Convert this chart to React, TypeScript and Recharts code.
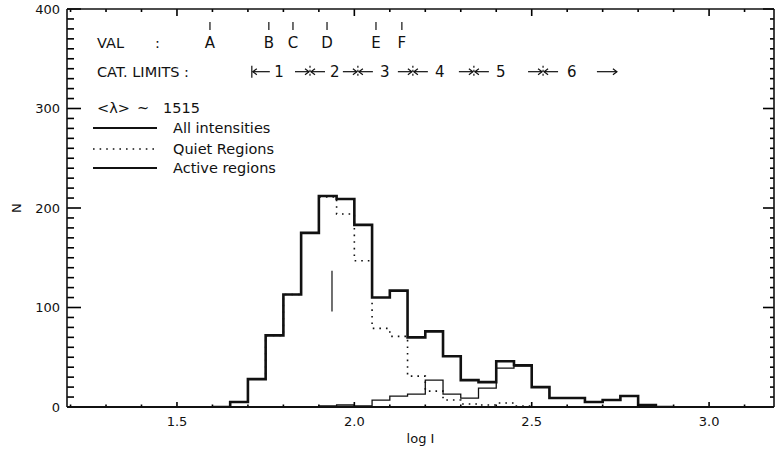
import {
  ComposedChart,
  Line,
  ReferenceLine,
  Scatter,
  XAxis,
  YAxis,
} from 'recharts';

// histogram bins (left edge, log I) and counts
const binStarts = [
  1.6, 1.65, 1.7, 1.75, 1.8, 1.85, 1.9, 1.95, 2.0, 2.05, 2.1, 2.15, 2.2, 2.25,
  2.3, 2.35, 2.4, 2.45, 2.5, 2.55, 2.6, 2.65, 2.7, 2.75, 2.8, 2.85, 2.9,
];
const allCounts = [
  0, 5, 28, 72, 113, 175, 212, 209, 183, 110, 117, 70, 76, 51, 27, 25, 46, 42,
  20, 9, 9, 5, 7, 11, 2, 0, 0,
];
const quietCounts = [
  0, 5, 28, 72, 113, 175, 211, 194, 147, 79, 71, 31, 16, 7, 3, 2, 4, 1, 0, 0,
  0, 0, 0, 0, 0, 0, 0,
];
const activeCounts = [
  0, 0, 0, 0, 0, 0, 1, 2, 1, 7, 11, 13, 27, 13, 9, 19, 39, 41, 20, 9, 9, 5, 7,
  11, 2, 0, 0,
];

const seriesLabels = ['All intensities', 'Quiet Regions', 'Active regions'];

// axes
const xTicks = [
  1.2, 1.3, 1.4, 1.5, 1.6, 1.7, 1.8, 1.9, 2.0, 2.1, 2.2, 2.3, 2.4, 2.5, 2.6,
  2.7, 2.8, 2.9, 3.0, 3.1,
];
const xLabels = [1.5, 2.0, 2.5, 3.0];
const yTicks = [
  0, 10, 20, 30, 40, 50, 60, 70, 80, 90, 100, 110, 120, 130, 140, 150, 160,
  170, 180, 190, 200, 210, 220, 230, 240, 250, 260, 270, 280, 290, 300, 310,
  320, 330, 340, 350, 360, 370, 380, 390, 400,
];
const yLabels = [0, 100, 200, 300, 400];

// VAL markers and category limits along the top
const valNames = ['A', 'B', 'C', 'D', 'E', 'F'];
const valPositions = [1.593, 1.759, 1.827, 1.923, 2.061, 2.134];
const catNames = ['1', '2', '3', '4', '5', '6'];
const catNamePositions = [1.788, 1.945, 2.086, 2.241, 2.413, 2.613];
const catLimits = [1.875, 2.01, 2.165, 2.337, 2.532];
const catStart = 1.711;
const catEnd = 2.712;

// mean marker
const meanLogI = 1.937;
const meanRange = [96, 137];

const VAL_ROW = 383;
const CAT_ROW = 337;

const INK = '#111';
const FONT = '"DejaVu Sans", sans-serif';
const X_DOMAIN = [1.19, 3.183];
const Y_DOMAIN = [0, 400];

const W = 775;
const H = 449;
const LEFT_W = 67;
const BOTTOM_H = 42;
const TOP = 9;
// pixels per data unit, to turn tick lengths (px) into segment ends
const PX_X = (W - LEFT_W - 1) / (X_DOMAIN[1] - X_DOMAIN[0]);
const PX_Y = (H - BOTTOM_H - TOP) / (Y_DOMAIN[1] - Y_DOMAIN[0]);

const same = (a: number, b: number) => Math.abs(a - b) < 1e-6;
const isMajorX = (v: number) => xLabels.some((m) => same(m, v));
const isMajorY = (v: number) => yLabels.some((m) => same(m, v));

const histRows = binStarts.map((x, i) => ({
  x,
  all: allCounts[i],
  quiet: quietCounts[i],
  active: activeCounts[i],
}));
const valPoints = valNames.map((name, i) => ({ x: valPositions[i], y: VAL_ROW, name }));
const catNamePoints = catNames.map((name, i) => ({ x: catNamePositions[i], y: CAT_ROW, name }));
const catLimitPoints = catLimits.map((x) => ({ x, y: CAT_ROW }));

function labelTick(side: 'left' | 'bottom', majors: number[]) {
  return (props: any) => {
    const { x, y, payload } = props;
    const v = payload.value as number;
    if (!majors.some((m) => same(m, v))) return <g />;
    if (side === 'bottom') {
      return (
        <text x={x} y={y + 19} textAnchor="middle" fontSize={13} fill={INK} fontFamily={FONT}>
          {v.toFixed(1)}
        </text>
      );
    }
    return (
      <text x={x - 7} y={y + 4.5} textAnchor="end" fontSize={13} fill={INK} fontFamily={FONT}>
        {v}
      </text>
    );
  };
}

const ValMark = (p: any) => (
  <g>
    <line x1={p.cx} x2={p.cx} y1={p.cy - 4} y2={p.cy + 4} stroke={INK} strokeWidth={1.2} />
    <text x={p.cx} y={p.cy + 22} textAnchor="middle" fontSize={15} fill={INK} fontFamily={FONT}>
      {p.payload.name}
    </text>
  </g>
);

const CatName = (p: any) => (
  <text x={p.cx} y={p.cy + 5} textAnchor="middle" fontSize={15} fill={INK} fontFamily={FONT}>
    {p.payload.name}
  </text>
);

const CatLimit = (p: any) => {
  const { cx, cy } = p;
  return (
    <g stroke={INK} strokeWidth={1.2} fill="none">
      <line x1={cx - 15} x2={cx - 1} y1={cy} y2={cy} />
      <polyline points={`${cx - 5},${cy - 3} ${cx - 1},${cy} ${cx - 5},${cy + 3}`} />
      <line x1={cx + 1} x2={cx + 15} y1={cy} y2={cy} />
      <polyline points={`${cx + 5},${cy - 3} ${cx + 1},${cy} ${cx + 5},${cy + 3}`} />
      <line x1={cx} x2={cx} y1={cy - 6} y2={cy + 6} strokeDasharray="2 2" />
    </g>
  );
};

const CatStartMark = (p: any) => {
  const { cx, cy } = p;
  return (
    <g stroke={INK} strokeWidth={1.2} fill="none">
      <line x1={cx} x2={cx} y1={cy - 6} y2={cy + 6} />
      <line x1={cx + 1} x2={cx + 18} y1={cy} y2={cy} />
      <polyline points={`${cx + 5},${cy - 3} ${cx + 1},${cy} ${cx + 5},${cy + 3}`} />
    </g>
  );
};

const CatEndMark = (p: any) => {
  const { cx, cy } = p;
  return (
    <g stroke={INK} strokeWidth={1.2} fill="none">
      <line x1={cx - 10} x2={cx + 10} y1={cy} y2={cy} />
      <polyline points={`${cx + 6},${cy - 3} ${cx + 10},${cy} ${cx + 6},${cy + 3}`} />
    </g>
  );
};

// figure key and row captions, laid over the top-left corner of the plot
const FigureKey = () => (
  <svg
    width={300}
    height={180}
    style={{ position: 'absolute', left: 0, top: 0, pointerEvents: 'none' }}
    fontFamily={FONT}
    fontSize={14.5}
    fill={INK}
  >
    <text x={97} y={48}>VAL</text>
    <text x={155} y={48}>:</text>
    <text x={97} y={77}>CAT. LIMITS :</text>
    <text x={97} y={113}>{'<λ>'}</text>
    <text x={137} y={113}>~</text>
    <text x={163} y={113}>1515</text>
    <line x1={93} x2={157} y1={128} y2={128} stroke={INK} strokeWidth={2} />
    <text x={173} y={133}>{seriesLabels[0]}</text>
    <line x1={93} x2={157} y1={149} y2={149} stroke={INK} strokeWidth={1.6} strokeDasharray="1.6 5" />
    <text x={173} y={154}>{seriesLabels[1]}</text>
    <line x1={93} x2={157} y1={168} y2={168} stroke={INK} strokeWidth={1.8} />
    <text x={173} y={173}>{seriesLabels[2]}</text>
  </svg>
);

// inward tick marks on all four sides of the frame
const frameTicks = () => {
  const out: any[] = [];
  yTicks.forEach((v) => {
    const l = (isMajorY(v) ? 14 : 7) / PX_X;
    const r = (isMajorY(v) ? 11 : 4) / PX_X;
    out.push(
      <ReferenceLine
        key={`l${v}`}
        ifOverflow="visible"
        segment={[{ x: X_DOMAIN[0], y: v }, { x: X_DOMAIN[0] + l, y: v }]}
        stroke="#000"
        strokeWidth={1.6}
      />,
      <ReferenceLine
        key={`r${v}`}
        ifOverflow="visible"
        segment={[{ x: X_DOMAIN[1] - r, y: v }, { x: X_DOMAIN[1], y: v }]}
        stroke="#000"
        strokeWidth={1.6}
      />,
    );
  });
  xTicks.forEach((v) => {
    const t = (isMajorX(v) ? 7 : 3) / PX_Y;
    const b = (isMajorX(v) ? 5 : 2.5) / PX_Y;
    out.push(
      <ReferenceLine
        key={`t${v}`}
        ifOverflow="visible"
        segment={[{ x: v, y: Y_DOMAIN[1] - t }, { x: v, y: Y_DOMAIN[1] }]}
        stroke="#000"
        strokeWidth={1.6}
      />,
      <ReferenceLine
        key={`b${v}`}
        ifOverflow="visible"
        segment={[{ x: v, y: Y_DOMAIN[0] }, { x: v, y: Y_DOMAIN[0] + b }]}
        stroke="#000"
        strokeWidth={1.6}
      />,
    );
  });
  return out;
};

export default function App() {
  return (
    <div style={{ position: 'absolute', left: 0, top: 0, width: W, height: H }}>
      <ComposedChart
        width={W}
        height={H}
        data={histRows}
        margin={{ top: TOP - 1, right: 0, bottom: 0, left: 0 }}
      >
        <XAxis
          dataKey="x"
          type="number"
          domain={X_DOMAIN}
          allowDataOverflow
          ticks={xTicks}
          interval={0}
          tickSize={0}
          tickMargin={0}
          tickLine={false}
          tick={labelTick('bottom', xLabels)}
          axisLine={{ stroke: INK, strokeWidth: 2.2 }}
          height={BOTTOM_H}
          label={{ value: 'log I', position: 'insideBottom', offset: 6, fill: INK, fontSize: 13, fontFamily: FONT }}
        />
        <XAxis
          xAxisId="top"
          orientation="top"
          dataKey="x"
          type="number"
          domain={X_DOMAIN}
          allowDataOverflow
          ticks={xTicks}
          tick={false}
          tickLine={false}
          axisLine={{ stroke: INK, strokeWidth: 1.6 }}
          height={1}
        />
        <YAxis
          type="number"
          domain={Y_DOMAIN}
          allowDataOverflow
          ticks={yTicks}
          interval={0}
          tickSize={0}
          tickMargin={0}
          tickLine={false}
          tick={labelTick('left', yLabels)}
          axisLine={{ stroke: INK, strokeWidth: 1.6 }}
          width={LEFT_W}
          label={{
            value: 'N',
            angle: -90,
            position: 'insideLeft',
            offset: 16,
            fill: INK,
            fontSize: 13,
            fontFamily: FONT,
            style: { textAnchor: 'middle' },
          }}
        />
        <YAxis
          yAxisId="right"
          orientation="right"
          type="number"
          domain={Y_DOMAIN}
          allowDataOverflow
          ticks={yTicks}
          tick={false}
          tickLine={false}
          axisLine={{ stroke: INK, strokeWidth: 1.6 }}
          width={1}
        />
        <Line
          type="stepAfter"
          dataKey="active"
          stroke={INK}
          strokeWidth={1.3}
          dot={false}
          isAnimationActive={false}
        />
        <Line
          type="stepAfter"
          dataKey="quiet"
          stroke={INK}
          strokeWidth={1.6}
          strokeDasharray="1.6 5"
          dot={false}
          isAnimationActive={false}
        />
        <Line
          type="stepAfter"
          dataKey="all"
          stroke={INK}
          strokeWidth={2.6}
          dot={false}
          isAnimationActive={false}
        />
        <ReferenceLine
          segment={[
            { x: meanLogI, y: meanRange[0] },
            { x: meanLogI, y: meanRange[1] },
          ]}
          stroke={INK}
          strokeWidth={1.2}
        />
        <Scatter data={valPoints} dataKey="y" shape={ValMark} isAnimationActive={false} />
        <Scatter data={catNamePoints} dataKey="y" shape={CatName} isAnimationActive={false} />
        <Scatter data={catLimitPoints} dataKey="y" shape={CatLimit} isAnimationActive={false} />
        <Scatter data={[{ x: catStart, y: CAT_ROW }]} dataKey="y" shape={CatStartMark} isAnimationActive={false} />
        <Scatter data={[{ x: catEnd, y: CAT_ROW }]} dataKey="y" shape={CatEndMark} isAnimationActive={false} />
        {frameTicks()}
      </ComposedChart>
      <FigureKey />
    </div>
  );
}
